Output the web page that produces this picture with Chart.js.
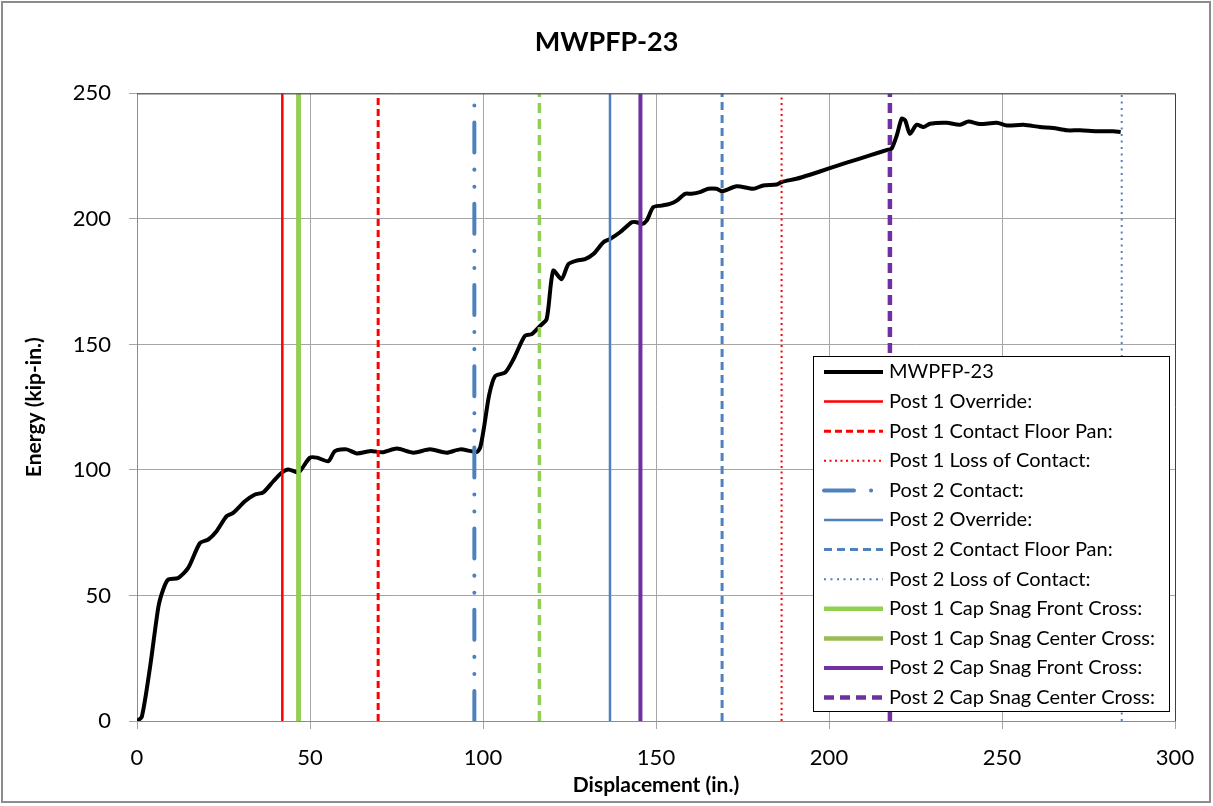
<!DOCTYPE html>
<html>
<head>
<meta charset="utf-8">
<title>MWPFP-23</title>
<script src="https://cdn.jsdelivr.net/npm/chart.js@4.4.1/dist/chart.umd.min.js"></script>
<style>
  html, body { margin: 0; padding: 0; background: #fff; }
  #wrap { width: 1213px; height: 806px; }
</style>
</head>
<body>
<div id="wrap"><canvas id="chart" width="1213" height="806"></canvas></div>
<script>
// test curve
const dispX = [0, 1.4, 3.8, 6.2, 7.6, 9.0, 11.9, 14.8, 18.2, 20.6, 23.0, 25.9, 27.8, 31.2, 34.1, 36.5, 39.4, 41.8, 43.7, 46.2, 47.1, 50.0, 52.0, 55.3, 57.2, 60.6, 63.5, 67.3, 71.2, 75.1, 79.9, 84.7, 89.5, 93.4, 98.2, 99.2, 100.3, 101.8, 103.5, 106.4, 108.8, 112.1, 114.1, 116.5, 118.4, 120.3, 122.7, 124.7, 127.1, 129.5, 131.9, 134.8, 136.7, 139.6, 143.0, 144.4, 145.9, 147.3, 149.2, 151.6, 154.0, 156.0, 158.4, 160.3, 162.7, 165.1, 167.5, 169.2, 173.3, 178.1, 181.0, 184.9, 186.3, 190.6, 194.5, 199.8, 205.1, 211.8, 217.1, 218.1, 219.6, 221.0, 222.0, 223.4, 225.3, 227.3, 229.2, 234.0, 237.9, 240.3, 243.6, 248.5, 251.4, 256.2, 261.0, 264.8, 268.7, 272.6, 277.4, 282.2, 284.3];
const energy = [0, 1.7, 21.7, 45.6, 52.5, 56.3, 57.0, 61.0, 70.9, 72.3, 75.6, 81.6, 82.9, 87.5, 90.2, 91.1, 95.5, 98.9, 100.2, 99.1, 99.5, 104.9, 104.9, 103.5, 107.5, 108.2, 106.6, 107.5, 107.1, 108.5, 106.9, 108.2, 106.9, 108.2, 107.2, 109.0, 117.0, 130.0, 137.4, 138.8, 144.1, 153.4, 154.1, 157.4, 160.1, 179.4, 176.0, 182.0, 183.4, 184.0, 186.0, 190.7, 192.0, 194.7, 198.7, 198.7, 198.0, 199.3, 204.7, 205.3, 206.0, 207.3, 210.0, 210.0, 210.7, 212.0, 212.0, 211.0, 213.0, 212.0, 213.3, 213.7, 214.7, 216.0, 217.6, 220.0, 222.4, 225.3, 227.6, 228.0, 233.3, 239.9, 239.3, 233.9, 237.5, 236.6, 237.9, 238.3, 237.5, 238.8, 237.8, 238.3, 237.2, 237.5, 236.6, 236.2, 235.3, 235.3, 234.9, 234.9, 234.6];

// event markers (vertical lines)
const eventNames = ["Post 1 Override:", "Post 1 Contact Floor Pan:", "Post 1 Loss of Contact:", "Post 2 Contact:", "Post 2 Override:", "Post 2 Contact Floor Pan:", "Post 2 Loss of Contact:", "Post 1 Cap Snag Front Cross:", "Post 1 Cap Snag Center Cross:", "Post 2 Cap Snag Front Cross:", "Post 2 Cap Snag Center Cross:"];
const eventX = [42.0, 69.7, 186.3, 97.5, 136.7, 169.1, 284.6, 46.7, 46.7, 145.5, 217.6];
const extraX = [116.3]; // green dashed line, not in the legend
const lineSpan = [0, 250];

const xTicks = [0, 50, 100, 150, 200, 250, 300];
const yTicks = [0, 50, 100, 150, 200, 250];

const RED = "#FF0000", BLUE = "#4F81BD", LGREEN = "#92D050", OLIVE = "#9BBB59", PURPLE = "#7030A0";

// style per event, same order as eventNames
const eventStyle = [
  { color: RED, width: 2.5, dash: [] },
  { color: RED, width: 3, dash: [7, 4] },
  { color: RED, width: 2, dash: [2, 3.5] },
  { color: BLUE, width: 4, dash: [30, 17, 0.1, 17, 0.1, 17], cap: "round" },
  { color: BLUE, width: 2.5, dash: [] },
  { color: BLUE, width: 3, dash: [8, 5] },
  { color: BLUE, width: 2, dash: [2, 4.5] },
  { color: LGREEN, width: 4.5, dash: [] },
  { color: OLIVE, width: 4.5, dash: [] },
  { color: PURPLE, width: 4, dash: [] },
  { color: PURPLE, width: 4.5, dash: [10, 6] }
];

function vline(x, st, label, order) {
  return {
    label: label,
    data: lineSpan.map((y) => ({ x: x, y: y })),
    borderColor: st.color,
    borderWidth: st.width,
    borderDash: st.dash,
    borderCapStyle: st.cap || "butt",
    pointRadius: 0,
    fill: false,
    order: order
  };
}

const datasets = [];
eventNames.forEach((name, i) => {
  // olive sits under the light green one
  datasets.push(vline(eventX[i], eventStyle[i], name, i === 8 ? 2 : 0));
});
extraX.forEach((x) => datasets.push(vline(x, { color: LGREEN, width: 3.5, dash: [10, 6] }, "", 0)));
datasets.unshift({
  label: "MWPFP-23",
  data: dispX.map((x, i) => ({ x: x, y: energy[i] })),
  borderColor: "#000",
  borderWidth: 4,
  pointRadius: 0,
  tension: 0.25,
  fill: false,
  order: 1
});

const legendItems = datasets.slice(0, 12);

const frame = {
  id: "frame",
  afterDatasetsDraw(chart) {
    const { ctx, chartArea: a } = chart;
    ctx.save();
    // plot area border top/right
    ctx.strokeStyle = "#404040";
    ctx.lineWidth = 1;
    ctx.beginPath();
    ctx.moveTo(a.left, a.top + 0.5);
    ctx.lineTo(a.right + 0.5, a.top + 0.5);
    ctx.lineTo(a.right + 0.5, a.bottom);
    ctx.stroke();

    // legend box inside the plot
    const bx = 813, by = 356, bw = 356, bh = 355;
    ctx.fillStyle = "#fff";
    ctx.fillRect(bx, by, bw, bh);
    ctx.strokeStyle = "#000";
    ctx.strokeRect(bx + 0.5, by + 0.5, bw, bh);
    ctx.font = "20px Lato";
    ctx.textBaseline = "middle";
    legendItems.forEach((ds, i) => {
      const y = by + 16 + i * 29.6;
      ctx.save();
      ctx.strokeStyle = ds.borderColor;
      ctx.lineWidth = ds.borderWidth;
      ctx.setLineDash(ds.borderDash || []);
      ctx.lineCap = ds.borderCapStyle || "butt";
      ctx.beginPath();
      ctx.moveTo(824, y);
      ctx.lineTo(883, y);
      ctx.stroke();
      ctx.restore();
      ctx.fillStyle = "#000";
      ctx.fillText(ds.label, 889, y);
    });

    // outer chart border
    ctx.strokeStyle = "#8C8C8C";
    ctx.lineWidth = 2;
    ctx.strokeRect(2, 2, 1208, 800);
    ctx.restore();
  }
};

new Chart(document.getElementById("chart").getContext("2d"), {
  type: "line",
  data: { datasets: datasets },
  options: {
    responsive: false,
    animation: false,
    layout: { padding: 0 },
    plugins: {
      legend: { display: false },
      tooltip: { enabled: false },
      title: {
        display: true,
        text: "MWPFP-23",
        color: "#000",
        font: { family: "Lato", size: 27, weight: "bold" },
        padding: { top: 26, bottom: 35 }
      }
    },
    scales: {
      x: {
        type: "linear",
        min: 0,
        max: 300,
        afterBuildTicks: (s) => { s.ticks = xTicks.map((v) => ({ value: v })); },
        afterFit: (s) => { s.height = 85; },
        ticks: { color: "#000", font: { family: "Lato", size: 22 }, padding: 16 },
        grid: { color: "#A6A6A6", tickLength: 8, tickColor: "#A6A6A6" },
        border: { color: "#8C8C8C" },
        title: {
          display: true,
          text: "Displacement (in.)",
          color: "#000",
          font: { family: "Lato", size: 21, weight: "bold" },
          padding: { top: 0, bottom: 8 }
        }
      },
      y: {
        min: 0,
        max: 250,
        afterBuildTicks: (s) => { s.ticks = yTicks.map((v) => ({ value: v })); },
        afterFit: (s) => { s.width = 137; },
        ticks: { color: "#000", font: { family: "Lato", size: 22 }, padding: 18 },
        grid: { color: "#A6A6A6", tickLength: 8, tickColor: "#A6A6A6" },
        border: { color: "#8C8C8C" },
        title: {
          display: true,
          text: "Energy (kip-in.)",
          color: "#000",
          font: { family: "Lato", size: 21, weight: "bold" },
          padding: { top: 22, bottom: 0 }
        }
      },
      // empty right-hand margin so the title centres on the whole chart
      yRight: {
        position: "right",
        min: 0,
        max: 250,
        afterFit: (s) => { s.width = 38; },
        ticks: { display: false },
        grid: { display: false },
        border: { display: false }
      }
    }
  },
  plugins: [frame]
});
</script>
</body>
</html>
